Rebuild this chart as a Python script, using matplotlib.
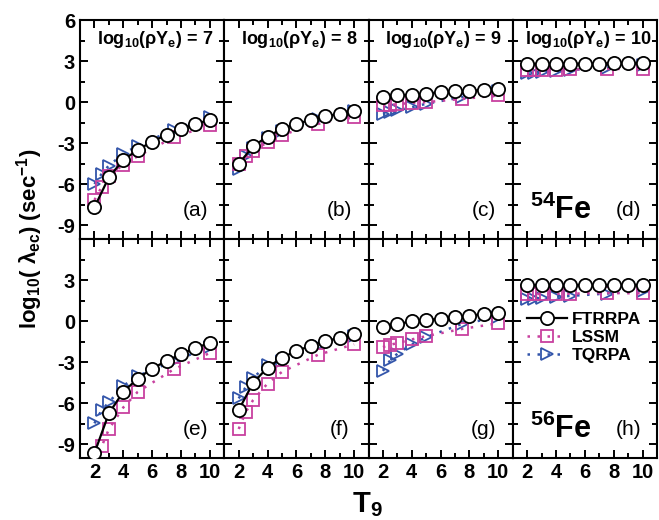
import matplotlib
matplotlib.use("Agg")
import matplotlib.pyplot as plt
import numpy as np
from matplotlib.ticker import MultipleLocator

plt.rcParams['font.family'] = ['Liberation Sans', 'DejaVu Sans']
plt.rcParams['mathtext.fontset'] = 'custom'
plt.rcParams['mathtext.rm'] = 'Liberation Sans:bold'
plt.rcParams['mathtext.it'] = 'Liberation Sans:bold'
plt.rcParams['mathtext.bf'] = 'Liberation Sans:bold'
plt.rcParams['mathtext.sf'] = 'Liberation Sans:bold'
plt.rcParams['axes.unicode_minus'] = False

# ---- data ----
T_ftrrpa = [2, 3, 4, 5, 6, 7, 8, 9, 10]
T_grid = [2, 2.5, 3, 4, 5, 7.5, 10]

densities = [7, 8, 9, 10]
panel_labels = ['(a)', '(b)', '(c)', '(d)', '(e)', '(f)', '(g)', '(h)']

# 54Fe
ftrrpa_54 = [
    [-7.68, -5.49, -4.22, -3.49, -2.88, -2.39, -1.95, -1.61, -1.27],
    [-4.51, -3.22, -2.51, -1.95, -1.61, -1.27, -1.02, -0.85, -0.61],
    [0.37, 0.49, 0.54, 0.63, 0.73, 0.78, 0.83, 0.88, 0.93],
    [2.80, 2.80, 2.80, 2.80, 2.82, 2.82, 2.83, 2.83, 2.85],
]
lssm_54 = [
    [-7.15, -6.20, -5.40, -4.56, -3.95, -2.56, -1.70],
    [-4.50, -3.95, -3.54, -2.93, -2.39, -1.59, -1.10],
    [-0.24, -0.20, -0.15, -0.05, 0.00, 0.24, 0.49],
    [2.37, 2.37, 2.38, 2.38, 2.39, 2.42, 2.44],
]
tqrpa_54 = [
    [-5.98, -5.24, -4.63, -3.78, -3.17, -2.02, -1.05],
    [-4.88, -3.90, -3.35, -2.60, -2.10, -1.25, -0.65],
    [-0.85, -0.73, -0.60, -0.37, -0.12, 0.37, 0.78],
    [2.10, 2.15, 2.20, 2.28, 2.35, 2.52, 2.68],
]
# 56Fe
ftrrpa_56 = [
    [-9.64, -6.73, -5.16, -4.19, -3.46, -2.90, -2.42, -1.94, -1.60],
    [-6.49, -4.50, -3.39, -2.66, -2.18, -1.79, -1.45, -1.21, -0.97],
    [-0.39, -0.19, -0.02, 0.10, 0.17, 0.29, 0.41, 0.53, 0.63],
    [2.64, 2.64, 2.64, 2.64, 2.64, 2.64, 2.65, 2.65, 2.65],
]
lssm_56 = [
    [-11.0, -9.15, -7.89, -6.30, -5.16, -3.51, -2.32],
    [-7.87, -6.61, -5.76, -4.55, -3.70, -2.45, -1.69],
    [-1.89, -1.72, -1.60, -1.33, -1.09, -0.56, -0.15],
    [1.99, 1.99, 1.99, 2.00, 2.01, 2.06, 2.03],
]
tqrpa_56 = [
    [-7.46, -6.49, -5.93, -4.72, -4.00, -2.90, -1.90],
    [-5.64, -4.79, -4.12, -3.22, -2.90, -1.84, -1.11],
    [-3.63, -2.86, -2.37, -1.69, -1.16, -0.19, 0.29],
    [1.60, 1.65, 1.70, 1.78, 1.85, 2.02, 2.20],
]

top_yticks = [-9, -6, -3, 0, 3, 6]
bottom_yticks = [-9, -6, -3, 0, 3]
xticks = [2, 4, 6, 8, 10]

c_lssm = '#C8409F'
c_tqrpa = '#3355AA'

fig = plt.figure(figsize=(6.59, 5.20), dpi=100)
gs = fig.add_gridspec(2, 4, left=0.1214, right=0.997, top=0.9615, bottom=0.119,
                      wspace=0, hspace=0)

for row in range(2):
    F = ftrrpa_54 if row == 0 else ftrrpa_56
    L = lssm_54 if row == 0 else lssm_56
    Q = tqrpa_54 if row == 0 else tqrpa_56
    for col in range(4):
        ax = fig.add_subplot(gs[row, col])
        ax.plot(T_grid, Q[col], linestyle=(0, (1, 3)), color=c_tqrpa, lw=1.8,
                marker='>', ms=8.5, mfc='none', mec=c_tqrpa, mew=1.3, label='TQRPA',
                zorder=2)
        ax.plot(T_grid, L[col], linestyle=(0, (1, 3)), color=c_lssm, lw=1.8,
                marker='s', ms=8, mfc='none', mec=c_lssm, mew=1.3, label='LSSM',
                zorder=3)
        ax.plot(T_ftrrpa, F[col], linestyle='-', color='black', lw=1.6,
                marker='o', ms=9.5, mfc='white', mec='black', mew=1.3, label='FTRRPA',
                zorder=4)
        ax.set_xlim(1, 11)
        ax.set_ylim(-10, 6)
        ax.set_xticks(xticks)
        ax.xaxis.set_minor_locator(MultipleLocator(1))
        ax.yaxis.set_minor_locator(MultipleLocator(1.5))
        ax.set_yticks(top_yticks if row == 0 else bottom_yticks)
        ax.tick_params(which='both', direction='in', top=True, right=True, width=1.4)
        ax.tick_params(which='major', length=6)
        ax.tick_params(which='minor', length=3.5)
        ax.tick_params(labelsize=14.5)
        for lab in ax.get_xticklabels() + ax.get_yticklabels():
            lab.set_fontweight('bold')
        for s in ax.spines.values():
            s.set_linewidth(1.5)
        if col != 0:
            ax.set_yticklabels([])
        if row == 0:
            ax.set_xticklabels([])
        ax.text(0.80, 0.13, panel_labels[row * 4 + col], transform=ax.transAxes,
                ha='center', va='center', fontsize=15)
        if row == 0:
            ax.text(0.52, 0.91, r'log$_{10}$($\rho$Y$_e$) = %d' % densities[col],
                    transform=ax.transAxes, ha='center', va='center',
                    fontsize=13, fontweight='bold')
        if col == 3:
            iso = r'$^{54}$Fe' if row == 0 else r'$^{56}$Fe'
            ax.text(0.12, 0.13, iso, transform=ax.transAxes, ha='left', va='center',
                    fontsize=22, fontweight='bold')
        if row == 1 and col == 3:
            h, l = ax.get_legend_handles_labels()
            order = [2, 1, 0]
            ax.legend([h[i] for i in order], [l[i] for i in order],
                      loc='center left', bbox_to_anchor=(0.0, 0.55), frameon=False,
                      prop={'weight': 'bold', 'size': 12.5}, handlelength=2.3,
                      handletextpad=0.3, labelspacing=0.15, borderpad=0.3)

fig.text(0.045, 0.54, r'log$_{10}$( $\lambda_{ec}$) (sec$^{-1}$)', rotation=90,
         ha='center', va='center', fontsize=16, fontweight='bold')
fig.text(0.557, 0.03, r'T$_9$', ha='center', va='center', fontsize=21,
         fontweight='bold')

fig.savefig('out.png', dpi=100)
